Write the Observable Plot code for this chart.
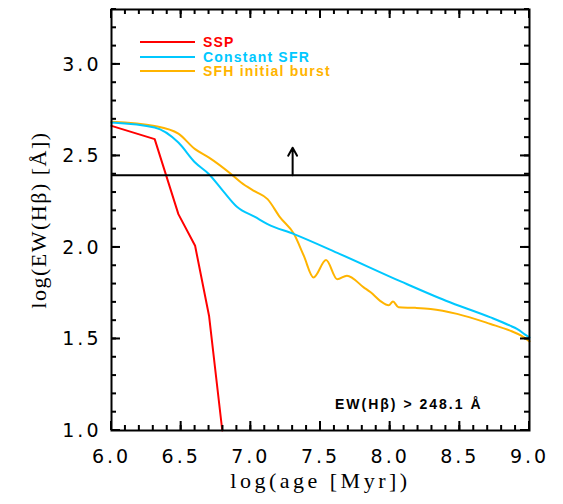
<!DOCTYPE html>
<html><head><meta charset="utf-8">
<script src="https://cdn.jsdelivr.net/npm/d3@7"></script>
<script src="https://cdn.jsdelivr.net/npm/@observablehq/plot@0.6"></script>
<style>
body{margin:0;background:#fff}
#chart{position:relative;width:563px;height:504px}
.ticklab text{letter-spacing:3px}
.xlab text{letter-spacing:3.5px}
.ylab text{letter-spacing:1.5px}
.ewlab text{letter-spacing:2px}
.legend{position:absolute;left:140px;top:35px;font-family:"Liberation Sans",sans-serif;font-weight:bold;font-size:14px;letter-spacing:1.2px;line-height:14px}
.legend div{display:flex;align-items:center;height:14.5px;overflow:visible}
.legend span.sw{display:inline-block;width:55px;height:2px;margin-right:8px}
</style></head><body><div id="chart"></div>
<script>
// SSP
const sspAge = [6.0, 6.31, 6.48, 6.60, 6.70, 6.795];
const sspEW  = [2.664, 2.592, 2.182, 2.009, 1.627, 1.0];
// Constant SFR
const csfrAge = [6.0, 6.31, 6.48, 6.60, 6.70, 6.80, 6.90, 7.03, 7.12, 7.31, 7.64, 8.08, 8.40, 8.72, 8.86, 8.91, 8.98, 9.0];
const csfrEW  = [2.682, 2.655, 2.573, 2.464, 2.40, 2.309, 2.222, 2.167, 2.128, 2.073, 1.964, 1.813, 1.709, 1.618, 1.573, 1.555, 1.518, 1.508];
// SFH initial burst
const burstAge = [6.0, 6.31, 6.48, 6.60, 6.70, 6.86, 6.93, 7.03, 7.12, 7.21, 7.31, 7.38, 7.45, 7.54, 7.62, 7.69, 7.81, 7.86, 7.93, 7.99, 8.02, 8.06, 8.18, 8.29, 8.48, 8.72, 8.86, 8.94, 9.0];
const burstEW  = [2.687, 2.664, 2.622, 2.537, 2.491, 2.40, 2.355, 2.306, 2.264, 2.164, 2.073, 1.955, 1.836, 1.931, 1.826, 1.846, 1.782, 1.755, 1.707, 1.684, 1.705, 1.673, 1.670, 1.664, 1.637, 1.582, 1.546, 1.518, 1.487];

const seriesNames = ["SSP", "Constant SFR", "SFH initial burst"];
const seriesColors = ["#ff0000", "#00c8ff", "#ffb400"];

const ewThreshold = 248.1; // Å
const arrowAge = [7.3];
const arrowTop = [2.545];

const xMajor = [6.0, 6.5, 7.0, 7.5, 8.0, 8.5, 9.0];
const yMajor = [1.0, 1.5, 2.0, 2.5, 3.0];
const xDomain = [6, 9];
const yDomain = [1, 3.3];

const xMinor = d3.range(60, 91).map(d => d / 10);
const yMinor = d3.range(10, 34).map(d => d / 10);

const ssp = sspAge.map((x, i) => ({x, y: sspEW[i]}));
const csfr = csfrAge.map((x, i) => ({x, y: csfrEW[i]}));
const burst = burstAge.map((x, i) => ({x, y: burstEW[i]}));
const thr = Math.log10(ewThreshold);

const W = 563, H = 504, mL = 111, mR = 34, mT = 9, mB = 74;
const pw = W - mL - mR, ph = H - mT - mB;
// pixel sizes converted to data units
const xpp = (xDomain[1] - xDomain[0]) / pw, ypp = (yDomain[1] - yDomain[0]) / ph;
const minorLen = 5, majorLen = 9, tw = 1; // half tick width, px

const tickFont = {fontFamily: "DejaVu Sans", fontSize: 19};
const tf = {fill: "black", inset: 0};
const xTicks = (arr, len) => [
  Plot.rect(arr, {x1: d => d - tw * xpp, x2: d => d + tw * xpp, y1: yDomain[0], y2: yDomain[0] + len * ypp, ...tf}),
  Plot.rect(arr, {x1: d => d - tw * xpp, x2: d => d + tw * xpp, y1: yDomain[1], y2: yDomain[1] - len * ypp, ...tf})
];
const yTicks = (arr, len) => [
  Plot.rect(arr, {y1: d => d - tw * ypp, y2: d => d + tw * ypp, x1: xDomain[0], x2: xDomain[0] + len * xpp, ...tf}),
  Plot.rect(arr, {y1: d => d - tw * ypp, y2: d => d + tw * ypp, x1: xDomain[1], x2: xDomain[1] - len * xpp, ...tf})
];

const chart = Plot.plot({
  width: W, height: H,
  marginLeft: mL, marginRight: mR, marginTop: mT, marginBottom: mB,
  x: {domain: xDomain, axis: null},
  y: {domain: yDomain, axis: null},
  style: {background: "white", color: "black"},
  marks: [
    Plot.line(burst, {x: "x", y: "y", stroke: seriesColors[2], strokeWidth: 2, curve: "monotone-x"}),
    Plot.line(csfr, {x: "x", y: "y", stroke: seriesColors[1], strokeWidth: 2, curve: "monotone-x"}),
    Plot.line(ssp, {x: "x", y: "y", stroke: seriesColors[0], strokeWidth: 2}),
    Plot.ruleY([thr], {stroke: "black", strokeWidth: 2}),
    Plot.arrow(arrowAge, {x1: d => d, x2: d => d, y1: () => thr, y2: (d, i) => arrowTop[i], stroke: "black", strokeWidth: 2, headLength: 16, headAngle: 58}),
    ...xTicks(xMinor, minorLen),
    ...xTicks(xMajor, majorLen),
    ...yTicks(yMinor, minorLen),
    ...yTicks(yMajor, majorLen),
    Plot.axisX({anchor: "bottom", ticks: xMajor, tickSize: 0, tickPadding: 19, tickFormat: d => d.toFixed(1), label: null, className: "ticklab", ...tickFont}),
    Plot.axisY({anchor: "left", ticks: yMajor, tickSize: 0, tickPadding: 10, tickFormat: d => d.toFixed(1), label: null, className: "ticklab", ...tickFont}),
    Plot.frame({stroke: "black", strokeWidth: 2}),
    Plot.text(["log(age [Myr])"], {frameAnchor: "bottom", dy: 57, textAnchor: "middle", fontFamily: "Liberation Serif", fontSize: 22, className: "xlab"}),
    Plot.text(["log(EW(Hβ) [Å])"], {frameAnchor: "left", dx: -73, rotate: -90, textAnchor: "middle", fontFamily: "Liberation Serif", fontSize: 22, className: "ylab"}),
    Plot.text(["EW(Hβ) > 248.1 Å"], {frameAnchor: "bottom-right", dx: -47, dy: -22, textAnchor: "end", fontFamily: "Liberation Sans", fontWeight: "bold", fontSize: 14, className: "ewlab"})
  ]
});
const holder = document.getElementById("chart");
holder.appendChild(chart);
const leg = document.createElement("div");
leg.className = "legend";
seriesNames.forEach((n, i) => {
  const row = document.createElement("div");
  const sw = document.createElement("span");
  sw.className = "sw"; sw.style.background = seriesColors[i];
  const t = document.createElement("span");
  t.textContent = n; t.style.color = seriesColors[i];
  row.appendChild(sw); row.appendChild(t);
  leg.appendChild(row);
});
holder.appendChild(leg);
</script></body></html>
